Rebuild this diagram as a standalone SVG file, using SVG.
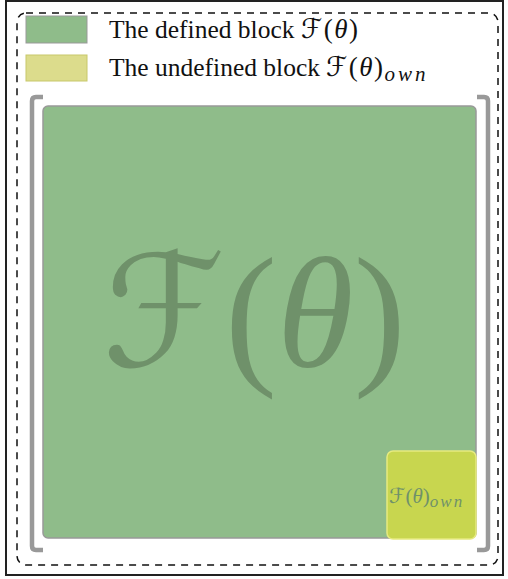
<svg xmlns="http://www.w3.org/2000/svg" width="508" height="579" viewBox="0 0 508 579">
<style>
text{font-family:'Liberation Serif','Times New Roman',serif}
.t{fill:#111;font-size:25.5px}
.m{fill:#111;font-size:27px;letter-spacing:1.5px}
.it{font-style:italic}
.cal{font-family:'DejaVu Sans',sans-serif;font-style:italic}
.big{fill:#6f916a}
.br{fill:none;stroke:#999;stroke-width:4.5;stroke-linejoin:round}
</style>
<rect x="6" y="1" width="497" height="574" fill="#fff" stroke="#222" stroke-width="2"/>
<rect x="17" y="13" width="481" height="552" rx="9" fill="none" stroke="#111" stroke-width="1.5" stroke-dasharray="7,6"/>
<g id="legend">
<rect x="26" y="16" width="61" height="27" fill="#8fbc8a" stroke="#999" stroke-width="1"/>
<text class="t" x="109" y="38">The defined block</text>
<text class="m" x="301" y="38"><tspan class="cal">ℱ</tspan>(<tspan class="it">θ</tspan>)</text>
<rect x="26" y="55" width="61" height="26" fill="#dcdc8c" stroke="#c8c86a" stroke-width="1"/>
<text class="t" x="109" y="76">The undefined block</text>
<text class="m" x="326" y="76"><tspan class="cal">ℱ</tspan>(<tspan class="it">θ</tspan>)<tspan class="it" font-size="21" dy="5" letter-spacing="3">own</tspan></text>
</g>
<g id="brackets">
<path class="br" d="M43,97 H36 Q32,97 32,101 V546 Q32,550 36,550 H43"/>
<path class="br" d="M477,97 H484 Q488,97 488,101 V546 Q488,550 484,550 H477"/>
</g>
<g id="block">
<rect x="43" y="106" width="433" height="432" rx="5" fill="#8fbc8a" stroke="#999" stroke-width="1.5"/>
<text class="big" x="254" y="366" font-size="156" text-anchor="middle"><tspan class="cal">ℱ</tspan>(<tspan class="it">θ</tspan>)</text>
</g>
<g id="own">
<rect x="387" y="451" width="89" height="88" rx="6" fill="#c8d64f" stroke="#e6ea80" stroke-width="1.5"/>
<text class="big" x="389" y="503" font-size="21"><tspan class="cal">ℱ</tspan>(<tspan class="it">θ</tspan>)<tspan class="it" font-size="17" dy="4" letter-spacing="2">own</tspan></text>
</g>
</svg>
